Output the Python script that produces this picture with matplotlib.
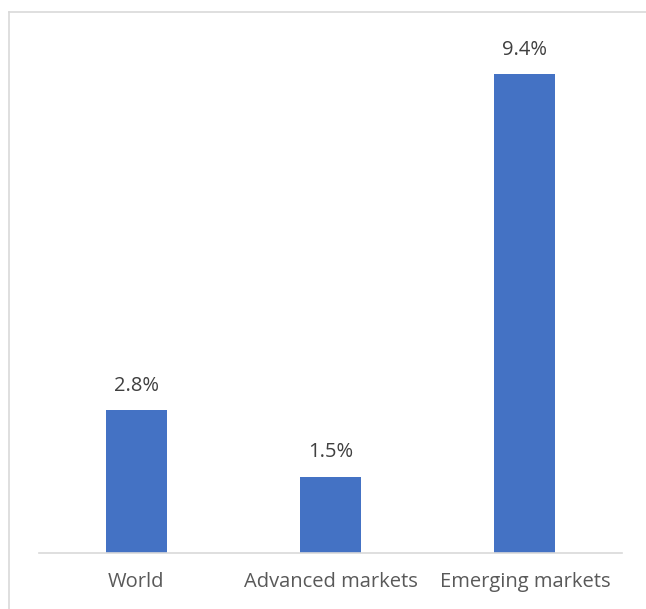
import matplotlib
matplotlib.use("Agg")
import matplotlib.pyplot as plt
from matplotlib.lines import Line2D

categories = ["World", "Advanced markets", "Emerging markets"]
values = [2.8, 1.5, 9.4]
labels = ["2.8%", "1.5%", "9.4%"]

plt.rcParams["font.family"] = ["Open Sans", "DejaVu Sans"]

fig = plt.figure(figsize=(6.46, 6.09), dpi=100)
ax = fig.add_axes([39 / 646, 56 / 609, 583 / 646, 509.6 / 609])

x = range(len(categories))
ax.bar(x, values, width=0.314, color="#4472C4")
for i, v in enumerate(values):
    ax.text(i, v + 0.28, labels[i], ha="center", va="bottom", fontsize=14.5, color="#404040")

ax.set_xlim(-0.5, 2.5)
ax.set_ylim(0, 10)
ax.set_xticks(list(x))
ax.set_xticklabels(categories, fontsize=14.5, color="#595959")
ax.tick_params(axis="x", length=0, pad=14)
ax.set_yticks([])
for s in ["top", "right", "left"]:
    ax.spines[s].set_visible(False)
ax.spines["bottom"].set_color("#D9D9D9")
ax.spines["bottom"].set_linewidth(1.2)

# outer chart frame
fig.add_artist(Line2D([9 / 646, 9 / 646], [0, 1 - 12 / 609], color="#D9D9D9", lw=1.2))
fig.add_artist(Line2D([9 / 646, 1], [1 - 12 / 609, 1 - 12 / 609], color="#D9D9D9", lw=1.2))

fig.savefig("out.png", dpi=100)
